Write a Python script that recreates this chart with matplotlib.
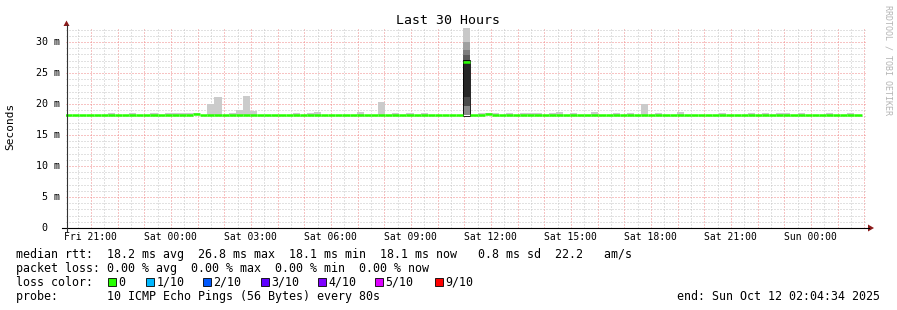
import matplotlib
matplotlib.use('Agg')
import matplotlib.pyplot as plt
from matplotlib.patches import Rectangle, Polygon
from matplotlib.lines import Line2D

MONO = 'DejaVu Sans Mono'
W, H = 897, 310

# time axis in hours since Fri 00:00
t_start = 20 + 4 / 60.
t_end = t_start + 30
bin0 = 20 + 2 / 60.
binw = 16 / 60.

# median rtt per 16 min bin (ms)
median_rtt = [
    18.2, 18.2, 18.2, 18.2, 18.2, 18.2, 18.2, 18.2, 18.2, 18.2, 18.2, 18.2, 18.2, 18.2,
    18.2, 18.2, 18.2, 18.2, 18.35, 18.2, 18.2, 18.2, 18.2, 18.2, 18.2, 18.2, 18.2, 18.2,
    18.2, 18.2, 18.2, 18.2, 18.2, 18.2, 18.2, 18.2, 18.2, 18.2, 18.2, 18.2, 18.2, 18.2,
    18.2, 18.2, 18.2, 18.2, 18.2, 18.2, 18.2, 18.2, 18.2, 18.2, 18.2, 18.2, 18.2, 18.2,
    26.8, 18.2, 18.2, 18.35, 18.2, 18.2, 18.2, 18.2, 18.2, 18.2, 18.2, 18.2, 18.2, 18.2,
    18.2, 18.2, 18.2, 18.2, 18.2, 18.2, 18.2, 18.2, 18.2, 18.2, 18.2, 18.2, 18.2, 18.2,
    18.2, 18.2, 18.2, 18.2, 18.2, 18.2, 18.2, 18.2, 18.2, 18.2, 18.2, 18.2, 18.2, 18.2,
    18.2, 18.2, 18.2, 18.2, 18.2, 18.2, 18.2, 18.2, 18.2, 18.2, 18.2, 18.2, 18.2, 18.2,
]
# upper edge of the smoke per bin (ms)
smoke_top = [
    18.2, 18.2, 18.2, 18.2, 18.2, 18.2, 18.6, 18.2, 18.2, 18.6, 18.2, 18.2, 18.6, 18.2,
    18.5, 18.5, 18.5, 18.5, 18.6, 18.2, 20.0, 21.1, 18.2, 18.6, 19.0, 21.3, 18.9, 18.2,
    18.2, 18.2, 18.2, 18.2, 18.6, 18.2, 18.6, 18.7, 18.2, 18.2, 18.2, 18.2, 18.2, 18.7,
    18.2, 18.2, 20.3, 18.2, 18.6, 18.2, 18.6, 18.2, 18.6, 18.2, 18.2, 18.2, 18.2, 18.2,
    18.2, 18.2, 18.6, 18.6, 18.6, 18.2, 18.6, 18.2, 18.6, 18.5, 18.5, 18.2, 18.6, 18.65,
    18.2, 18.6, 18.2, 18.2, 18.7, 18.2, 18.2, 18.6, 18.2, 18.6, 18.2, 20.0, 18.2, 18.6,
    18.2, 18.2, 18.7, 18.2, 18.2, 18.2, 18.2, 18.2, 18.6, 18.2, 18.2, 18.2, 18.6, 18.2,
    18.6, 18.2, 18.6, 18.6, 18.2, 18.6, 18.2, 18.2, 18.2, 18.6, 18.2, 18.2, 18.6, 18.2,
]
# the one bin with the big spike, drawn in layers
spike_bin = 56
spike_levels = [18.2, 19.6, 21.2, 26.8, 27.9, 28.7, 30.0, 33.0]
spike_shades = ['#8a8a8a', '#4a4a4a', '#262626', '#5a5a5a', '#7c7c7c', '#a0a0a0', '#c8c8c8']

xtick_hours = [21, 24, 27, 30, 33, 36, 39, 42, 45, 48]
xtick_labels = ['Fri 21:00', 'Sat 00:00', 'Sat 03:00', 'Sat 06:00', 'Sat 09:00',
                'Sat 12:00', 'Sat 15:00', 'Sat 18:00', 'Sat 21:00', 'Sun 00:00']
ytick_vals = [0, 5, 10, 15, 20, 25, 30]
ytick_labels = [' 0', ' 5 m', '10 m', '15 m', '20 m', '25 m', '30 m']

loss_labels = ['0', '1/10', '2/10', '3/10', '4/10', '5/10', '9/10']
loss_colors = ['#26ff00', '#00b8ff', '#0059ff', '#5e00ff', '#7e00ff', '#dd00ff', '#ff0000']
loss_x = [108, 146, 203, 261, 318, 375, 435]

legend_rows = [
    'median rtt:  18.2 ms avg  26.8 ms max  18.1 ms min  18.1 ms now   0.8 ms sd  22.2   am/s',
    'packet loss: 0.00 % avg  0.00 % max  0.00 % min  0.00 % now',
    'loss color:',
    'probe:       10 ICMP Echo Pings (56 Bytes) every 80s',
]


def fx(x):
    return x / W


def fy(y):
    return 1 - y / H


fig = plt.figure(figsize=(W / 100, H / 100), dpi=100)
fig.patch.set_facecolor('white')
ax = fig.add_axes([fx(66), fy(228), (866 - 66) / W, (228 - 27.7) / H])
ax.set_xlim(t_start, t_end)
ax.set_ylim(0, 32.3)
for s in ax.spines.values():
    s.set_visible(False)

# grid
hours = [h for h in range(21, 51)]
halves = [h + 0.5 for h in range(20, 50)]
ax.set_xticks(hours, ['' for h in hours])
ax.set_xticks(halves, minor=True)
ax.set_yticks([5, 10, 15, 20, 25, 30], [])
ax.set_yticks([v for v in range(1, 33) if v % 5], minor=True)
ax.tick_params(which='both', length=0)
ax.grid(which='minor', color='#c4c4c4', lw=0.72, ls=(0, (1, 2)))
ax.grid(which='major', color='#f08888', lw=0.72, ls=(0, (1, 2)))
ax.set_axisbelow(True)

# smoke
for i, (m, top) in enumerate(zip(median_rtt, smoke_top)):
    if top > m:
        ax.bar(bin0 + i * binw, top - m, bottom=m, width=binw, align='edge',
               color='#cbcbcb', linewidth=0)

left = bin0 + spike_bin * binw
for lo, hi, c in zip(spike_levels[:-1], spike_levels[1:], spike_shades):
    ax.bar(left, hi - lo, bottom=lo, width=binw, align='edge', color=c, linewidth=0)
ax.add_patch(Rectangle((left, 18.1), binw, 27.1 - 18.1, fill=False,
                       edgecolor='#000000', lw=0.6))

# median line
for i, m in enumerate(median_rtt):
    ax.hlines(m, bin0 + i * binw, bin0 + (i + 1) * binw, colors='#26ff00', lw=1.8)

# axes lines and arrows
fig.add_artist(Line2D([fx(62), fx(869)], [fy(228), fy(228)], color='#000000', lw=0.8))
fig.add_artist(Line2D([fx(66.5), fx(66.5)], [fy(231), fy(25)], color='#333333', lw=0.8))
fig.add_artist(Polygon([(fx(868), fy(224.5)), (fx(868), fy(231.5)), (fx(874), fy(228))],
                       closed=True, color='#8b1a1a', lw=0))
fig.add_artist(Polygon([(fx(63.5), fy(26)), (fx(69.5), fy(26)), (fx(66.5), fy(20.5))],
                       closed=True, color='#8b1a1a', lw=0))

# tick labels
for h, lab in zip(xtick_hours, xtick_labels):
    px = 66 + (h - t_start) / 30 * 800
    fig.text(fx(px), fy(237.5), lab, ha='center', va='center', family=MONO, size=7.05)
for v, lab in zip(ytick_vals, ytick_labels):
    py = 228 - v * (228 - 27.7) / 32.3
    fig.text(fx(36), fy(py), lab, ha='left', va='center', family=MONO, size=7.2)

fig.text(fx(10), fy(126.5), 'Seconds', rotation=90, ha='center', va='center',
         family=MONO, size=8)
fig.text(fx(447.5), fy(20), 'Last 30 Hours', ha='center', va='center', family=MONO, size=9.5)
fig.text(fx(887.5), fy(5), 'RRDTOOL / TOBI OETIKER', rotation=270, ha='center', va='top',
         family=MONO, size=6, color='#b4b4b4')

# legend
row_y = [254.3, 268.3, 282.3, 296.3]
for y, txt in zip(row_y, legend_rows):
    fig.text(fx(16), fy(y), txt, ha='left', va='center', family=MONO, size=8.42)
for x, lab, c in zip(loss_x, loss_labels, loss_colors):
    fig.add_artist(Rectangle((fx(x), fy(285.5)), 7.5 / W, 7.5 / H, facecolor=c,
                             edgecolor='#000000', lw=0.6))
    fig.text(fx(x + 10.5), fy(row_y[2]), lab, ha='left', va='center', family=MONO, size=8.42)
fig.text(fx(880), fy(row_y[3]), 'end: Sun Oct 12 02:04:34 2025', ha='right', va='center',
         family=MONO, size=8.42)

fig.savefig('out.png', dpi=100, facecolor='white')
